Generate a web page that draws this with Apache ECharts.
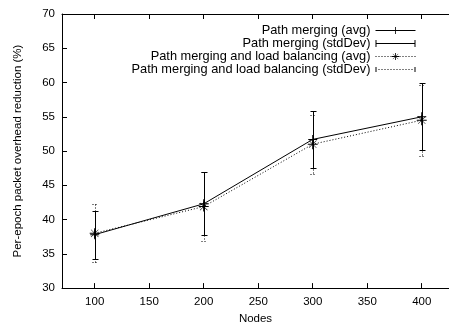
<!DOCTYPE html>
<html>
<head>
<meta charset="utf-8">
<script src="https://cdn.jsdelivr.net/npm/echarts@6/dist/echarts.min.js"></script>
<style>
html, body { margin: 0; padding: 0; background: #fff; }
#main { width: 449px; height: 330px; }
</style>
</head>
<body>
<div id="main"></div>
<script>
// values
var nodes = [100, 200, 300, 400];
var xTicks = [100, 150, 200, 250, 300, 350, 400];
var pmAvg = [37.8, 42.3, 51.7, 55.0];
var pmStd = [3.5, 4.6, 4.2, 4.9];
var lbAvg = [38.0, 41.9, 51.0, 54.5];
var lbStd = [4.2, 5.0, 4.3, 5.2];

var font = '"Liberation Sans", Arial, sans-serif';

// markers drawn as thin filled shapes
var plusPath = 'path://M-4.5,-0.5h9v1h-9z M-0.5,-4.5h1v9h-1z';
var starPath = 'path://M-4.5,-0.5h9v1h-9z M-0.5,-4.5h1v9h-1z ' +
  'M-3.5,-3.2L-3.2,-3.5L3.5,3.2L3.2,3.5Z M3.5,-3.2L-3.2,3.5L-3.5,3.2L3.2,-3.5Z';

// legend samples for the error bars
var solidBarIcon = 'path://M0,0h1v7h-1z M0,3h40v1h-40z M39,0h1v7h-1z';
var dotBarIcon = 'path://M0,1h1v5h-1z M39,1h1v5h-1z';
for (var i = 3; i < 38; i += 3) dotBarIcon += ' M' + i + ',3h1v1h-1z';

function pairs(xs, ys) {
  return xs.map(function (x, k) { return [x, ys[k]]; });
}
function triples(xs, ys, ss) {
  return xs.map(function (x, k) { return [x, ys[k], ss[k]]; });
}

function errorBars(dash) {
  return function (params, api) {
    var x = api.value(0), m = api.value(1), s = api.value(2);
    var hi = api.coord([x, m + s]);
    var lo = api.coord([x, m - s]);
    var c = Math.round(hi[0]) + 0.5;
    var yh = Math.round(hi[1]) + 0.5, yl = Math.round(lo[1]) + 0.5;
    var st = { stroke: '#000', lineWidth: 1, lineDash: dash, fill: null };
    return {
      type: 'group',
      children: [
        { type: 'line', shape: { x1: c, y1: yh, x2: c, y2: yl }, style: st },
        { type: 'line', shape: { x1: c - 3, y1: yh, x2: c + 3, y2: yh }, style: st },
        { type: 'line', shape: { x1: c - 3, y1: yl, x2: c + 3, y2: yl }, style: st }
      ]
    };
  };
}

var chart = echarts.init(document.getElementById('main'));

chart.setOption({
  animation: false,
  textStyle: { fontFamily: font },
  grid: { left: 62, right: 0, top: 14, bottom: 36, containLabel: false },
  legend: {
    orient: 'vertical',
    right: 28,
    top: 19,
    align: 'right',
    itemWidth: 40,
    itemHeight: 9,
    itemGap: 0,
    selectedMode: false,
    lineStyle: { width: 1 },
    textStyle: { fontFamily: font, fontSize: 12.8, color: '#000', lineHeight: 12.5 },
    data: [
      { name: 'Path merging (avg)' },
      { name: 'Path merging (stdDev)', icon: solidBarIcon, itemStyle: { color: '#000' } },
      { name: 'Path merging and load balancing (avg)' },
      { name: 'Path merging and load balancing (stdDev)', icon: dotBarIcon, itemStyle: { color: '#000' } }
    ]
  },
  xAxis: [{
    type: 'value',
    min: 70,
    max: 425,
    name: 'Nodes',
    nameLocation: 'middle',
    nameGap: 22,
    nameTextStyle: { fontFamily: font, fontSize: 11.5, color: '#000' },
    splitLine: { show: false },
    axisLine: { lineStyle: { color: '#000', width: 1 } },
    axisTick: { inside: true, length: 5, customValues: xTicks, lineStyle: { color: '#000' } },
    axisLabel: { customValues: xTicks, margin: 8, fontSize: 11.5, color: '#000', fontFamily: font }
  }, {
    type: 'value',
    position: 'top',
    min: 70,
    max: 425,
    splitLine: { show: false },
    axisLine: { show: true, lineStyle: { color: '#000', width: 1 } },
    axisTick: { inside: true, length: 5, customValues: xTicks, lineStyle: { color: '#000' } },
    axisLabel: { show: false }
  }],
  yAxis: {
    type: 'value',
    min: 30,
    max: 70,
    interval: 5,
    name: 'Per-epoch packet overhead reduction (%)',
    nameLocation: 'middle',
    nameGap: 38,
    nameTextStyle: { fontFamily: font, fontSize: 11.5, color: '#000' },
    splitLine: { show: false },
    axisLine: { show: true, lineStyle: { color: '#000', width: 1 } },
    axisTick: { inside: true, length: 5, lineStyle: { color: '#000' } },
    axisLabel: { margin: 7, fontSize: 11.5, color: '#000', fontFamily: font }
  },
  series: [{
    name: 'Path merging (avg)',
    type: 'line',
    data: pairs(nodes, pmAvg),
    symbol: plusPath,
    symbolSize: 9,
    itemStyle: { color: '#000' },
    lineStyle: { color: '#000', width: 1 },
    z: 4
  }, {
    name: 'Path merging (stdDev)',
    type: 'custom',
    data: triples(nodes, pmAvg, pmStd),
    encode: { x: 0, y: 1 },
    itemStyle: { color: '#000' },
    renderItem: errorBars(null),
    z: 3
  }, {
    name: 'Path merging and load balancing (avg)',
    type: 'line',
    data: pairs(nodes, lbAvg),
    symbol: starPath,
    symbolSize: 10,
    itemStyle: { color: '#000' },
    lineStyle: { color: '#000', width: 1, type: [1, 2] },
    z: 4
  }, {
    name: 'Path merging and load balancing (stdDev)',
    type: 'custom',
    data: triples(nodes, lbAvg, lbStd),
    encode: { x: 0, y: 1 },
    itemStyle: { color: '#000' },
    renderItem: errorBars([1, 2]),
    z: 3
  }]
});
</script>
</body>
</html>
